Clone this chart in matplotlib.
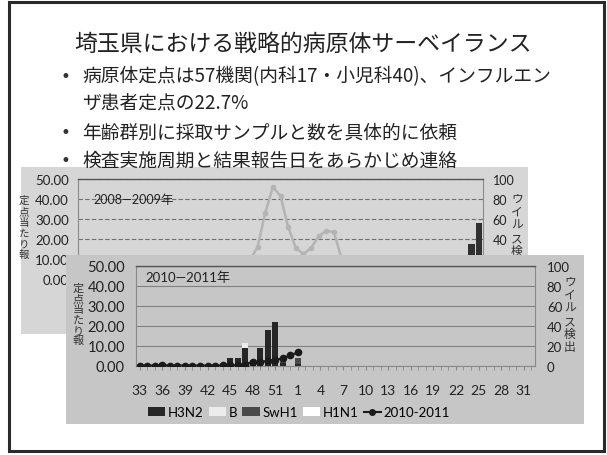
import numpy as np
import matplotlib.pyplot as plt
from matplotlib.patches import Rectangle, Patch
from matplotlib.lines import Line2D

plt.rcParams['font.family'] = ['Lato', 'Noto Sans CJK JP', 'DejaVu Sans']

W, H = 607, 456

# surveillance weeks: week 33 through week 32 of the following year
weeks = list(range(33, 54)) + list(range(1, 33))
tick_weeks = weeks[::3]

# 2008-2009 season: reports per sentinel site
rate_0809 = [0.1, 0.1, 0.1, 0.1, 0.1, 0.1, 0.2, 0.2, 0.2, 0.3, 0.3, 0.4, 0.5,
             0.7, 0.9, 1.2, 1.6, 2.1, 2.6, 3.4, 4.5, 6.5, 9.5, 16.0, 33.0,
             46.0, 41.5, 26.0, 15.5, 12.5, 15.5, 21.5, 24.0, 23.5, 10.0, 6.0,
             4.0, 3.0, 2.2, 1.6, 1.2, 1.0, 0.8, 0.6, 0.5, 0.4, 0.3, 0.3, 0.3,
             0.4, 0.6, 1.0, 1.6]
# 2008-2009 virus detections by week
swh1_0809 = {31: 35, 32: 56}

# 2010-2011 season: reports per sentinel site (week 33 .. week 1)
rate_1011 = [0.2, 0.2, 0.2, 0.4, 0.2, 0.2, 0.2, 0.2, 0.2, 0.2, 0.2, 0.3, 0.3,
             0.4, 0.7, 2.2, 1.8, 2.7, 3.0, 3.9, 5.3, 6.8]
# 2010-2011 virus detections by week
h3n2_1011 = {36: 3, 45: 8, 46: 8, 47: 18, 48: 6, 49: 18, 50: 36, 51: 44, 52: 3, 1: 2}
b_1011 = {47: 5}
swh1_1011 = {52: 5, 1: 6}
h1n1_1011 = {}

title = '埼玉県における戦略的病原体サーベイランス'
bullets = [('•', '病原体定点は57機関(内科17・小児科40)、インフルエン', 77),
           ('', 'ザ患者定点の22.7%', 103),
           ('•', '年齢群別に採取サンプルと数を具体的に依頼', 133),
           ('•', '検査実施周期と結果報告日をあらかじめ連絡', 161)]
left_label = '定点当たり報'
right_label = 'ウイルス検出'


def by_week(d):
    return np.array([d.get(w, 0) for w in weeks], float)


def frame(x0, y0, x1, y1):
    # pixel box -> figure fraction [left, bottom, width, height]
    return [x0 / W, 1 - y1 / H, (x1 - x0) / W, (y1 - y0) / H]


def panel(x0, y0, x1, y1, color, z):
    l, b, w, h = frame(x0, y0, x1, y1)
    fig.add_artist(Rectangle((l, b), w, h, transform=fig.transFigure,
                             facecolor=color, edgecolor='none', zorder=z))


def vtext(x, y, s, fs, z, spacing):
    # upright characters stacked top to bottom, centred on (x, y)
    fig.text(x / W, 1 - y / H, '\n'.join(s), ha='center', va='center',
             multialignment='center', fontsize=fs, linespacing=spacing,
             color='#333', zorder=z, family=['Noto Sans CJK JP'])


def chart(box, z, rates, bars, line_kw, grid_kw, fs_left, fs_right, pads,
          week_labels=True):
    bx = fig.add_axes(frame(*box))
    ax = bx.twinx()
    bx.set_zorder(z)
    ax.set_zorder(z + 0.05)
    for a in (ax, bx):
        a.patch.set_visible(False)
    x = np.arange(len(weeks))

    # stacked detections on the right scale
    bottom = np.zeros(len(weeks))
    for vals, color in bars:
        bx.bar(x, vals, 0.8, bottom=bottom, color=color, zorder=2)
        bottom += vals
    bx.set_ylim(0, 100)
    bx.set_yticks(range(0, 101, 20))
    bx.yaxis.grid(True, **grid_kw)
    bx.set_axisbelow(True)

    # reports per sentinel on the left scale
    ax.plot(x[:len(rates)], rates, **line_kw)
    ax.set_ylim(0, 50)
    ax.set_xlim(-0.5, len(weeks) - 0.5)
    ax.set_yticks(range(0, 51, 10))
    ax.set_yticklabels([f'{v:.2f}' for v in range(0, 51, 10)])

    # twinx puts the second axes on the right; swap so bars use right ticks
    ax.yaxis.tick_left()
    bx.yaxis.tick_right()
    ax.tick_params(axis='y', length=0, labelsize=fs_left, pad=pads[0],
                   colors='#222')
    bx.tick_params(axis='y', length=0, labelsize=fs_right, pad=pads[1],
                   colors='#222')

    bx.set_xticks(x[::3])
    bx.set_xticklabels(tick_weeks)
    bx.set_xticks(x, minor=True)
    bx.tick_params(axis='x', which='both', length=3, labelsize=10, pad=10,
                   colors='#888', labelcolor='#222', labelbottom=week_labels)
    ax.tick_params(axis='x', which='both', bottom=False, labelbottom=False)

    for s in ax.spines.values():
        s.set_visible(False)
    for s in bx.spines.values():
        s.set_color('#8a8a8a')
        s.set_linewidth(0.8)
    bx.spines['top'].set_color('#555')
    bx.spines['top'].set_linewidth(1.0)
    return ax, bx


fig = plt.figure(figsize=(W / 100, H / 100), dpi=100)
fig.patch.set_facecolor('white')

# slide heading and bullet points
fig.text(303 / W, 1 - 44 / H, title, ha='center', va='center', fontsize=16.5,
         color='#222', family=['Noto Sans CJK JP', 'DejaVu Sans'])
for mark, line, y in bullets:
    if mark:
        fig.text(65 / W, 1 - y / H, mark, ha='center', va='center',
                 fontsize=12, color='#333', family=['DejaVu Sans'])
    fig.text(82 / W, 1 - y / H, line, ha='left', va='center', fontsize=13.5,
             color='#222', family=['Noto Sans CJK JP', 'DejaVu Sans'])

# 2008-2009 chart, its lower half sits under the 2010-2011 chart
panel(21, 168, 528, 335, '#d6d6d6', 0.5)
chart((78, 180, 483, 280), 1.0, rate_0809,
      [(by_week(swh1_0809), '#303030')],
      dict(color='#b4b4b4', lw=1.8, marker='o', ms=3, zorder=3),
      dict(color='#707070', lw=0.8, linestyle=(0, (4, 2))),
      9.5, 9, (6.5, 7), week_labels=False)
fig.text(93 / W, 1 - 200 / H, '2008—2009年', ha='left', va='center',
         fontsize=9, color='#222', zorder=1.3)
vtext(24, 228, left_label, 7.5, 1.3, 1.1)
vtext(517, 232, right_label, 8.5, 1.3, 1.0)

# 2010-2011 chart
panel(66, 256, 584, 425, '#c6c6c6', 2.0)
bars_1011 = [(by_week(h3n2_1011), '#262626'),
             (by_week(b_1011), '#ececec'),
             (by_week(swh1_1011), '#4a4a4a'),
             (by_week(h1n1_1011), '#ffffff')]
chart((136, 267, 535, 367), 2.5, rate_1011, bars_1011,
      dict(color='#1a1a1a', lw=1.6, marker='o', ms=4.5, zorder=3),
      dict(color='#808080', lw=0.8),
      10.5, 9.5, (8, 8.5))
fig.text(145 / W, 1 - 278 / H, '2010—2011年', ha='left', va='center',
         fontsize=9.5, color='#222', zorder=3)
vtext(78, 315, left_label, 8, 3, 1.05)
vtext(570, 315, right_label, 8.5, 3, 1.0)

handles = [Patch(facecolor=c, edgecolor='none') for _, c in bars_1011]
handles.append(Line2D([], [], color='#1a1a1a', lw=1.5, marker='o', ms=4))
leg = fig.legend(handles, ['H3N2', 'B', 'SwH1', 'H1N1', '2010-2011'],
                 loc='center', bbox_to_anchor=(299 / W, 1 - 413 / H), ncol=5,
                 frameon=False, fontsize=9.5, handlelength=1.3,
                 handleheight=0.6, handletextpad=0.2, columnspacing=0.4)
leg.set_zorder(4)

# slide border
fig.add_artist(Rectangle((8.5 / W, 1 - 452 / H), 595 / W, 449 / H,
                         transform=fig.transFigure, fill=False,
                         edgecolor='#2a2a2a', lw=2.2, zorder=10))

fig.savefig('out.png', dpi=100)
